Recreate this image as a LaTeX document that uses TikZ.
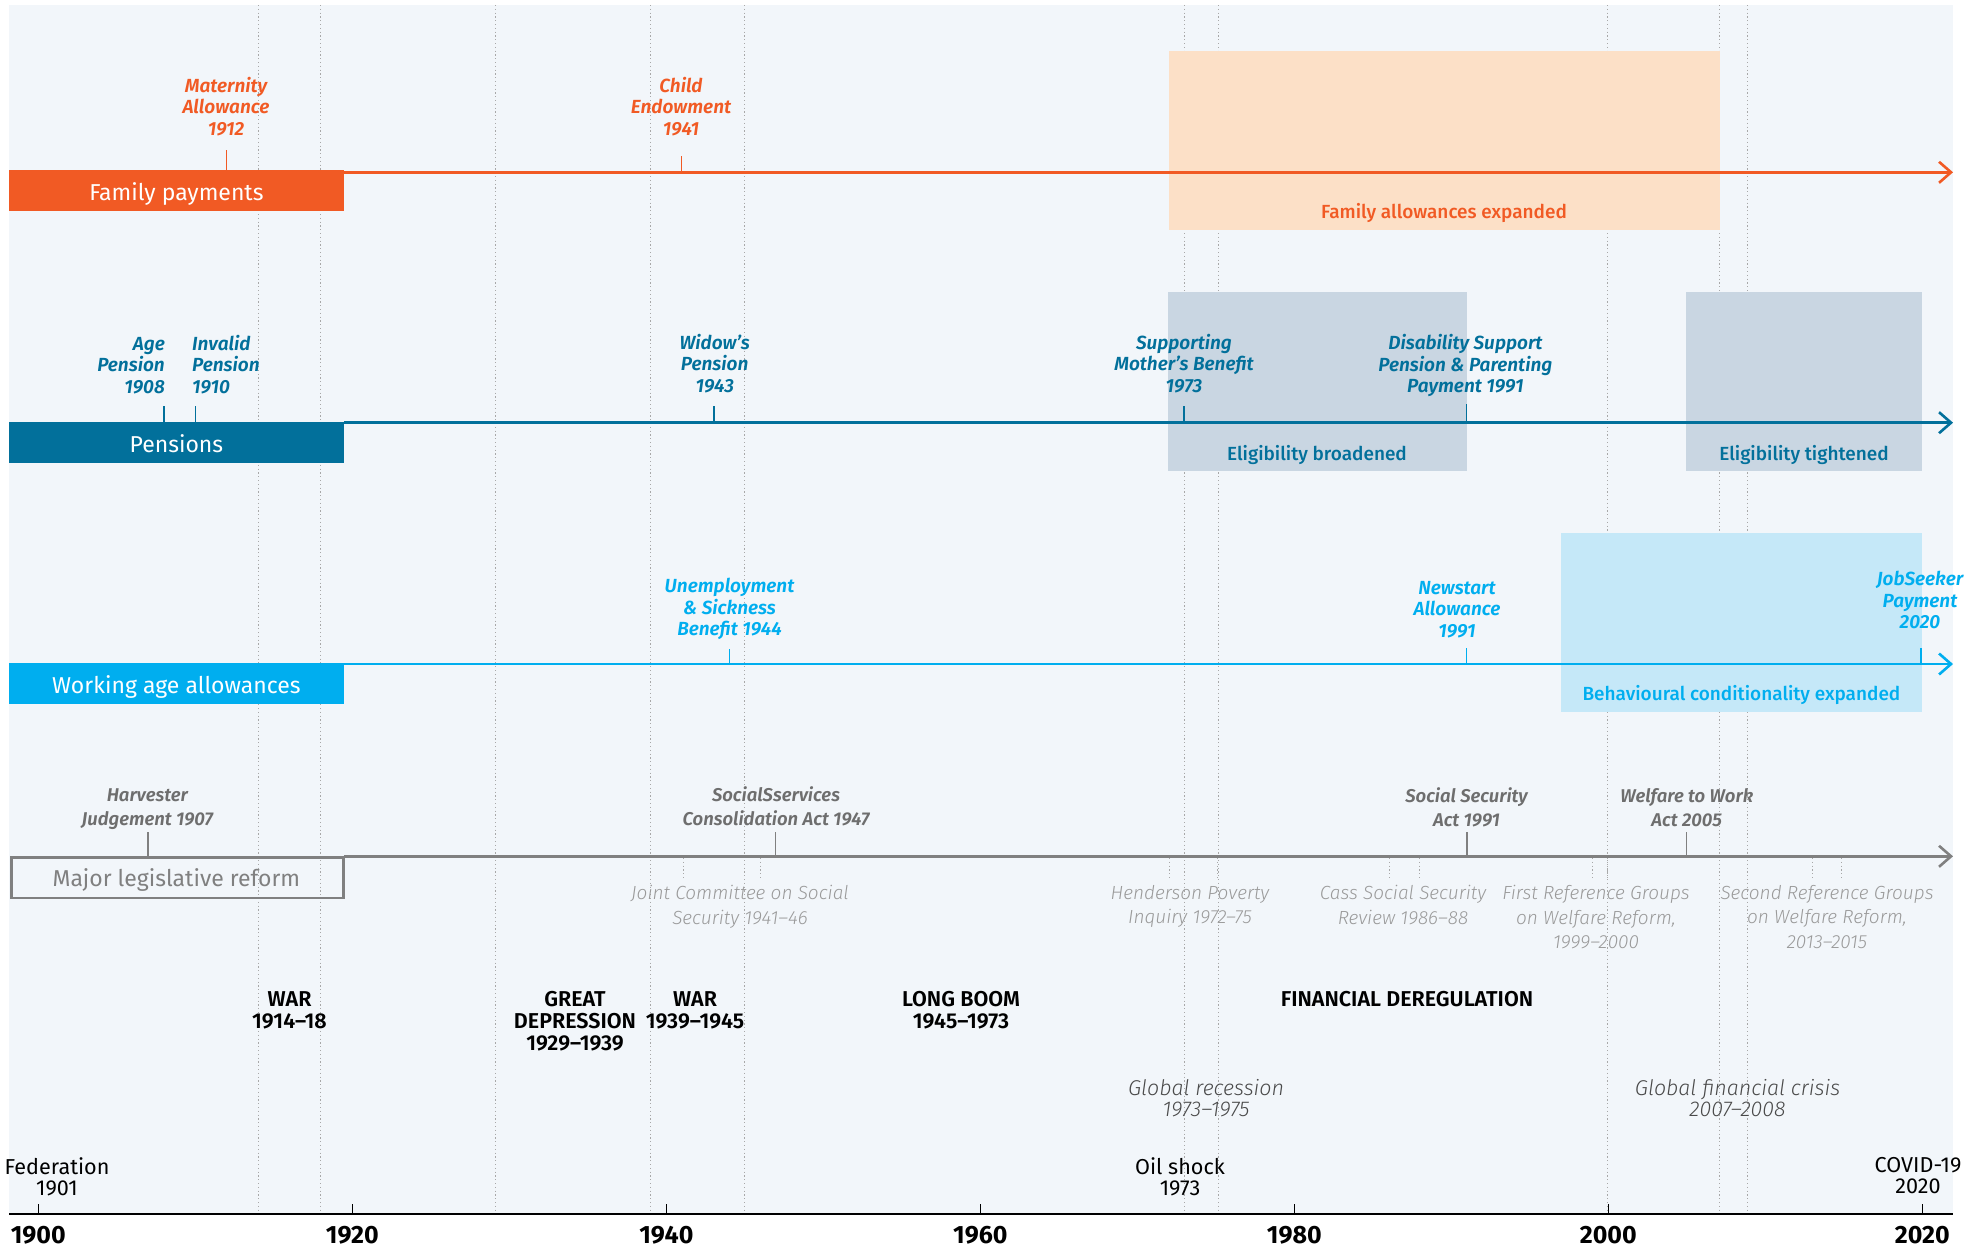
\documentclass[tikz,border=0pt]{standalone}
\usepackage{fontspec}
\setmainfont{Fira Sans}
\newfontfamily\fSB{Fira Sans SemiBold}
\newfontfamily\fSBI{Fira Sans SemiBold Italic}
\newfontfamily\fLI{Fira Sans Light Italic}
\newfontfamily\fMD{Fira Sans Medium}
\newfontfamily\fBD{Fira Sans Bold}
\usetikzlibrary{arrows.meta}
\definecolor{bgc}{HTML}{F2F6FA}
\definecolor{orng}{HTML}{F15A24}
\definecolor{peach}{HTML}{FCE0C7}
\definecolor{pblue}{HTML}{02709B}
\definecolor{eligc}{HTML}{C9D6E2}
\definecolor{cyanc}{HTML}{00AEEF}
\definecolor{behc}{HTML}{C5E8F8}
\definecolor{lgray}{HTML}{808080}
\definecolor{tgray}{HTML}{6E6E6E}
\definecolor{igray}{HTML}{9A9A9A}
\definecolor{dgray}{HTML}{A8A8A8}
\definecolor{ggray}{HTML}{4A4A4A}
\tikzset{
  dotln/.style={draw=dgray, line width=1pt, dash pattern=on 1.2pt off 2.6pt},
  lanearrow/.style={line width=2.6pt, -{Straight Barb[length=12pt,width=21pt]}},
  tickln/.style={line width=1.5pt},
  lanebox/.style={anchor=north west, inner sep=0pt, minimum width=334.75pt, minimum height=41pt},
  lanetxt/.style={font=\fontsize{23}{26}\selectfont, anchor=base, inner sep=0pt},
  bandbox/.style={anchor=north west, inner sep=0pt},
  bandtxt/.style={font=\fMD\fontsize{19}{22}\selectfont, anchor=base, inner sep=0pt},
  evt/.style={font=\fSBI\fontsize{19}{21.5}\selectfont, align=center, anchor=south, inner sep=0pt},
  leg/.style={font=\fSBI\fontsize{18.5}{24}\selectfont, align=center, anchor=south, inner sep=0pt, text=tgray},
  inq/.style={font=\fLI\fontsize{19}{24.5}\selectfont, align=center, anchor=north, inner sep=0pt, text=igray},
  era/.style={font=\fSB\fontsize{21.5}{22}\selectfont, align=center, anchor=north, inner sep=0pt},
  glob/.style={font=\fLI\fontsize{21.4}{21}\selectfont, align=center, anchor=north, inner sep=0pt, text=ggray},
  evb/.style={font=\fontsize{21.6}{21}\selectfont, align=center, anchor=north, inner sep=0pt},
  yrlab/.style={font=\fBD\fontsize{25}{27}\selectfont, anchor=base, inner sep=0pt},
}
\begin{document}
\begin{tikzpicture}[x=1pt,y=-1pt]
\useasboundingbox (0,0) rectangle (1977,1248);
% background
\fill[bgc] (9,5) rectangle (1953,1214);
% long dotted period lines
\foreach \xx in {258,320.7,495,650,744,1184,1218,1607.5,1719.5,1747.5}
  \draw[dotln] (\xx,5) -- (\xx,1213);
% shaded bands
\node[bandbox, fill=peach, minimum width=550.6pt, minimum height=179pt] (famband) at (1169,51) {};
\node[bandbox, fill=eligc, minimum width=298.5pt, minimum height=178.7pt] (brband) at (1168,292) {};
\node[bandbox, fill=eligc, minimum width=235.6pt, minimum height=178.7pt] (tiband) at (1686,292) {};
\node[bandbox, fill=behc, minimum width=360.8pt, minimum height=179pt] (behband) at (1561,532.7) {};
\node[bandtxt, text=orng] (famexp) at (1444,218.5) {Family allowances expanded};
\node[bandtxt, text=pblue] (brtxt) at (1317,460) {Eligibility broadened};
\node[bandtxt, text=pblue] (titxt) at (1804,460) {Eligibility tightened};
\node[bandtxt, text=cyanc] (behtxt) at (1741.4,700) {Behavioural conditionality expanded};
% lanes
\coordinate (famS) at (343.75,172.3); \coordinate (famE) at (1953,172.3);
\coordinate (penS) at (343.75,422.7); \coordinate (penE) at (1953,422.7);
\coordinate (wrkS) at (343.75,664);   \coordinate (wrkE) at (1953,664);
\coordinate (legS) at (343.75,856.3); \coordinate (legE) at (1953,856.3);
\draw[lanearrow, orng] (famS) -- (famE);
\draw[lanearrow, pblue] (penS) -- (penE);
\draw[lanearrow, cyanc] (wrkS) -- (wrkE);
\draw[lanearrow, lgray] (legS) -- (legE);
\node[lanebox, fill=orng] (famlab) at (9,170) {};
\node[lanebox, fill=pblue] (penlab) at (9,421.7) {};
\node[lanebox, fill=cyanc, minimum height=40.7pt] (wrklab) at (9,663) {};
\node[anchor=north west, inner sep=0pt, draw=lgray, line width=2.6pt, minimum width=332.1pt, minimum height=40.4pt] (leglab) at (10.3,856.3) {};
\node[lanetxt, text=white] (famtxt) at (176.4,200) {Family payments};
\node[lanetxt, text=white] (pentxt) at (176.4,452) {Pensions};
\node[lanetxt, text=white] (wrktxt) at (176.4,693) {Working age allowances};
\node[lanetxt, text=lgray] (legtxt) at (176.4,886) {Major legislative reform};
% family events
\coordinate (matT) at (226.5,150); \coordinate (matB) at (226.5,172);
\coordinate (chiT) at (681.5,156); \coordinate (chiB) at (681.5,172);
\draw[tickln, orng] (matT) -- (matB);
\draw[tickln, orng] (chiT) -- (chiB);
\node[evt, text=orng] (mat) at (226,136) {Maternity\\Allowance\\1912};
\node[evt, text=orng] (chi) at (681,136) {Child\\Endowment\\1941};
% pension events
\coordinate (ageT) at (164,406); \coordinate (ageB) at (164,422);
\coordinate (invT) at (195.3,406); \coordinate (invB) at (195.3,422);
\coordinate (widT) at (714,406); \coordinate (widB) at (714,422);
\coordinate (supT) at (1184,406); \coordinate (supB) at (1184,422);
\coordinate (disT) at (1466.5,404); \coordinate (disB) at (1466.5,422);
\foreach \a in {age,inv,wid,sup,dis} \draw[tickln, pblue] (\a T) -- (\a B);
\node[evt, text=pblue, anchor=south east, align=right] (age) at (165,394) {Age\\Pension\\1908};
\node[evt, text=pblue, anchor=south west, align=left] (inv) at (192,394) {Invalid\\Pension\\1910};
\node[evt, text=pblue] (wid) at (714.7,393) {Widow’s\\Pension\\1943};
\node[evt, text=pblue] (sup) at (1184,393) {Supporting\\Mother’s Benefit\\1973};
\node[evt, text=pblue] (dis) at (1465.4,397) {Disability Support\\Pension \& Parenting\\Payment 1991};
% working age events
\coordinate (uneT) at (729.3,649); \coordinate (uneB) at (729.3,664);
\coordinate (newT) at (1466.5,648); \coordinate (newB) at (1466.5,664);
\coordinate (jobT) at (1921,648); \coordinate (jobB) at (1921,664);
\foreach \a in {une,new,job} \draw[tickln, cyanc] (\a T) -- (\a B);
\node[evt, text=cyanc] (une) at (729.5,640) {Unemployment\\\& Sickness\\Benefit 1944};
\node[evt, text=cyanc] (new) at (1457,638) {Newstart\\Allowance\\1991};
\node[evt, text=cyanc] (job) at (1920,629) {JobSeeker\\Payment\\2020};
% legislative events
\coordinate (harT) at (147.8,832); \coordinate (harB) at (147.8,856);
\coordinate (socT) at (775.5,832); \coordinate (socB) at (775.5,856);
\coordinate (ssaT) at (1467,832); \coordinate (ssaB) at (1467,856);
\coordinate (wtwT) at (1686.7,832); \coordinate (wtwB) at (1686.7,856);
\foreach \a in {har,soc,ssa,wtw} \draw[tickln, lgray] (\a T) -- (\a B);
\node[leg] (har) at (147.3,830) {Harvester\\Judgement 1907};
\node[leg] (soc) at (776,826) {SocialSservices\\Consolidation Act 1947};
\node[leg] (ssa) at (1466.5,827) {Social Security\\Act 1991};
\node[leg] (wtw) at (1686.7,827) {Welfare to Work\\Act 2005};
% inquiry marks
\foreach \xx in {683,760.7,1169,1217.9,1389,1419.7,1592,1607.4,1812.4,1841.6}
  \draw[dotln] (\xx,858) -- (\xx,880);
\node[inq] (jc) at (740,885) {Joint Committee on Social\\Security 1941–46};
\node[inq] (hp) at (1190,885) {Henderson Poverty\\Inquiry 1972–75};
\node[inq] (cs) at (1403,885) {Cass Social Security\\Review 1986–88};
\node[inq] (fr) at (1596,885) {First Reference Groups\\on Welfare Reform,\\1999–2000};
\node[inq] (sr) at (1827,885) {Second Reference Groups\\on Welfare Reform,\\2013–2015};
% eras
\node[era] (war1) at (289.5,991.2) {WAR\\1914–18};
\node[era] (dep) at (575,991.2) {GREAT\\DEPRESSION\\1929–1939};
\node[era] (war2) at (695,991.2) {WAR\\1939–1945};
\node[era] (boom) at (961,991.2) {LONG BOOM\\1945–1973};
\node[era] (fin) at (1407,991.2) {FINANCIAL DEREGULATION};
\node[glob] (grec) at (1206,1079.4) {Global recession\\1973–1975};
\node[glob] (gfc) at (1737.5,1079.4) {Global financial crisis\\2007–2008};
\node[evb] (fed) at (57,1157.6) {Federation\\1901};
\node[evb] (oil) at (1180,1157.6) {Oil shock\\1973};
\node[evb] (cov) at (1918,1157.6) {COVID-19\\2020};
% axis
\coordinate (axL) at (9,1214); \coordinate (axR) at (1953,1214);
\draw[line width=2pt, black] (axL) -- (axR);
\foreach \yr in {1900,1920,1940,1960,1980,2000,2020} {
  \pgfmathsetmacro{\xx}{38.3+15.7*(\yr-1900)}
  \draw[line width=1.3pt] (\xx,1204) -- (\xx,1214);
  \node[yrlab] (y\yr) at (\xx,1243.3) {\yr};
}
\end{tikzpicture}
\end{document}
